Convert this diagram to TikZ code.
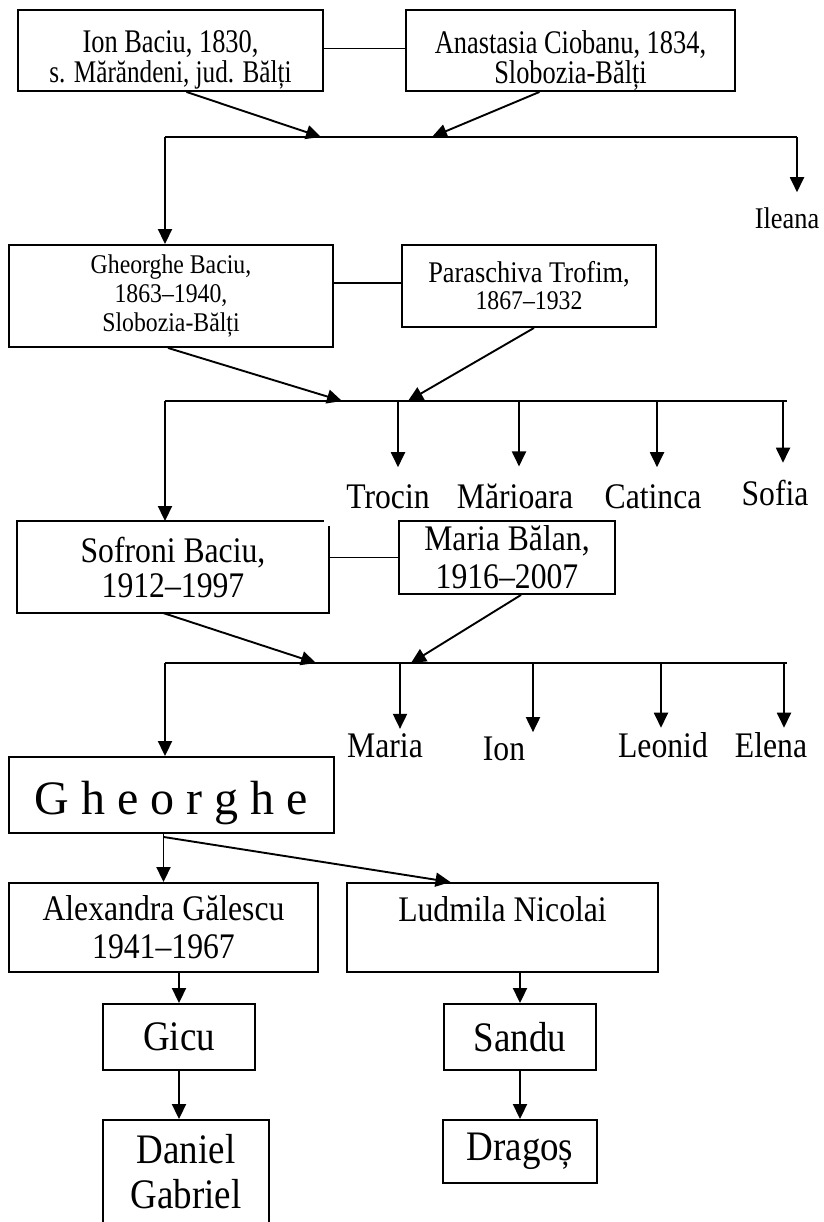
\documentclass[tikz,border=0pt]{standalone}
\usepackage{fontspec}
\setmainfont[FakeStretch=0.88]{Liberation Serif}
\newfontfamily\widefont{Liberation Serif}
\newfontfamily\narrowfont[FakeStretch=0.8]{Liberation Serif}
\usetikzlibrary{arrows.meta}

\begin{document}
\begin{tikzpicture}[x=1pt,y=-1pt,line width=1.9pt,
  box/.style={draw,rectangle,inner sep=2pt,align=center},
  kid/.style={anchor=base,font=\fontsize{36}{36}\selectfont},
  arr/.style={-{Triangle[length=15pt,width=14pt]}}]
\useasboundingbox (0,0) rectangle (823,1222);

% Ion Baciu and Anastasia Ciobanu
\node[box,minimum width=305pt,minimum height=81pt,text height=65pt,text depth=0pt,font=\narrowfont\fontsize{33}{30}\selectfont] (ion) at (170.5,50.5) {Ion Baciu, 1830,\\{\fontsize{31.5}{30}\selectfont s. Mărăndeni, jud. Bălți}};
\node[box,minimum width=329pt,minimum height=81pt,text height=66pt,text depth=0pt,font=\narrowfont\fontsize{33}{30}\selectfont] (ana) at (570.5,50.5) {Anastasia Ciobanu, 1834,\\Slobozia-Bălți};
\draw ([yshift=2pt]ion.east) -- ([yshift=2pt]ana.west);

% Their children
\coordinate (j1l) at (165,137);
\coordinate (j1r) at (797,137);
\coordinate (j1a) at (321,137);
\coordinate (j1b) at (432,137);
\draw (j1l) -- (j1r);
\draw[arr] ([xshift=16pt]ion.south) -- (j1a);
\draw[arr] ([xshift=-31pt]ana.south) -- (j1b);
\node[kid,font=\fontsize{30}{30}\selectfont,inner ysep=15pt] (ileana) at (787,229) {Ileana};
\draw[arr] (j1r) -- (j1r |- ileana.north);

% Gheorghe Baciu and Paraschiva Trofim
\node[box,minimum width=324pt,minimum height=102pt,font=\fontsize{27}{29}\selectfont] (gb) at (171,296) {Gheorghe Baciu,\\1863–1940,\\Slobozia-Bălți};
\node[box,minimum width=254pt,minimum height=82pt,font=\fontsize{27}{27}\selectfont] (pt) at (529,286) {{\fontsize{30}{30}\selectfont Paraschiva Trofim,}\\1867–1932};
\draw[arr] (j1l) -- (j1l |- gb.north);
\path ([yshift=3pt]pt.west) coordinate (m2);
\draw (gb.east |- m2) -- (m2);

% Their children
\coordinate (j2l) at (165,401);
\coordinate (j2r) at (787,401);
\coordinate (j2a) at (342,401);
\coordinate (j2b) at (408,401);
\draw (j2l) -- (j2r);
\draw[arr] ([xshift=-3pt]gb.south) -- (j2a);
\draw[arr] ([xshift=5pt]pt.south) -- (j2b);
\foreach \nm/\ax/\lx/\by/\txt in {trocin/398/388/508/Trocin,marioara/519/515/508/Mărioara,catinca/657/653/508/Catinca,sofia/783/775/505/Sofia} {
  \coordinate (\nm-top) at (\ax,401);
  \node[kid,inner ysep=16pt] (\nm) at (\lx,\by) {\txt};
  \draw[arr] (\nm-top) -- (\nm-top |- \nm.north);
}

% Sofroni Baciu and Maria Balan
\node[align=center,inner sep=2pt,minimum width=310pt,minimum height=90pt,font=\fontsize{36}{35}\selectfont] (sb) at (173,567) {Sofroni Baciu,\\1912–1997};
\draw ([xshift=-5pt]sb.north east) -- (sb.north west) -- (sb.south west) -- (sb.south east) -- ([yshift=-5pt]sb.north east);
\node[box,minimum width=216pt,minimum height=73pt,font=\fontsize{36}{38}\selectfont] (mb) at (507,557.5) {Maria Bălan,\\1916–2007};
\draw[arr] (j2l) -- (j2l |- sb.north);
\draw (sb.east |- mb.west) -- (mb.west);

% Their children
\coordinate (j3l) at (165,663);
\coordinate (j3r) at (787,663);
\coordinate (j3a) at (316,663);
\coordinate (j3b) at (411,663);
\draw (j3l) -- (j3r);
\draw[arr] ([xshift=-10pt]sb.south) -- (j3a);
\draw[arr] ([xshift=14pt]mb.south) -- (j3b);
\foreach \nm/\ax/\lx/\by/\txt in {maria/400/385/757/Maria,ionjr/533/504/760/Ion,leonid/661/663/757/Leonid,elena/784/771/757/Elena} {
  \coordinate (\nm-top) at (\ax,663);
  \node[kid] (\nm) at (\lx,\by) {\txt};
  \draw[arr] (\nm-top) -- (\nm-top |- \nm.north);
}

% Gheorghe
\node[box,minimum width=325pt,minimum height=76pt,text height=49pt,font=\widefont\fontsize{48}{48}\selectfont] (gh) at (171.5,795) {G h e o r g h e};
\draw[arr] (j3l) -- (j3l |- gh.north);

% Wives
\node[box,minimum width=309pt,minimum height=89pt,font=\fontsize{36}{38}\selectfont] (ag) at (163.5,927.5) {Alexandra Gălescu\\1941–1967};
\node[box,minimum width=311pt,minimum height=89pt,font=\fontsize{36}{38}\selectfont] (ln) at (502.5,927.5) {Ludmila Nicolai\\\mbox{}};
\coordinate (gf) at ([xshift=-8pt]gh.south);
\draw[arr] (gf) -- (gf |- ag.north);
\draw[arr] ([yshift=-3pt]gf) -- ([xshift=-52pt]ln.north);

% Sons and grandsons
\node[box,minimum width=152pt,minimum height=66pt,font=\fontsize{42}{45}\selectfont] (gicu) at (179,1037) {Gicu};
\node[box,minimum width=152pt,minimum height=66pt,font=\fontsize{42}{45}\selectfont] (sandu) at (520,1037) {Sandu};
\node[box,minimum width=166pt,minimum height=104pt,font=\fontsize{42}{45}\selectfont] (daniel) at (186,1172) {Daniel\\Gabriel};
\node[box,minimum width=154pt,minimum height=63pt,font=\fontsize{42}{45}\selectfont] (dragos) at (520,1151.5) {Dragoș};
\draw[arr] (ag.south -| gicu.north) -- (gicu.north);
\draw[arr] (ln.south -| sandu.north) -- (sandu.north);
\draw[arr] (gicu.south) -- (gicu.south |- daniel.north);
\draw[arr] (sandu.south) -- (dragos.north);
\end{tikzpicture}
\end{document}
